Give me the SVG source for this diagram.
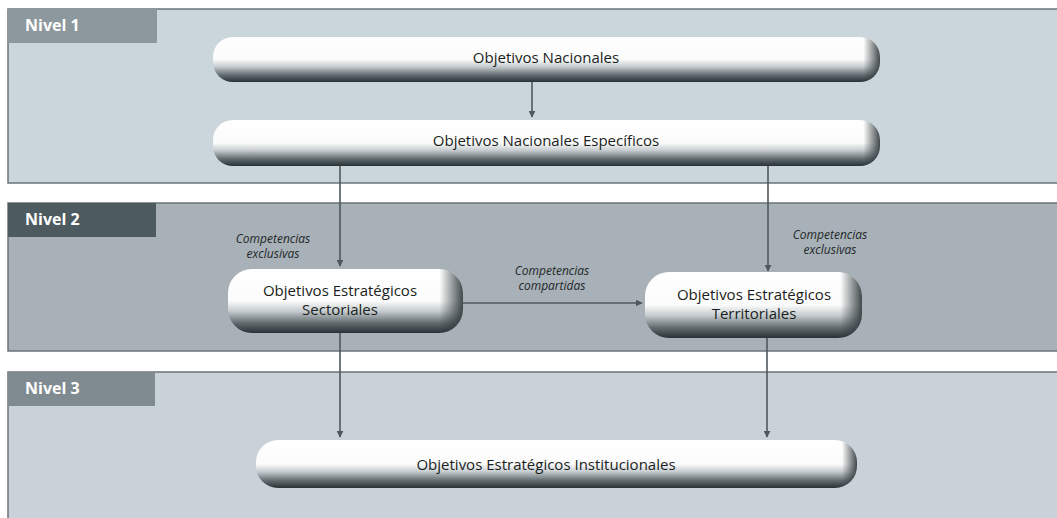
<svg xmlns="http://www.w3.org/2000/svg" width="1057" height="518" viewBox="0 0 1057 518">
<style>
.band{stroke:#6b7478;stroke-width:1.5}
.tag{font-family:"Open Sans","Liberation Sans",sans-serif;font-weight:bold;font-size:16px;fill:#ffffff}
.lbl{font-family:"Open Sans","Liberation Sans",sans-serif;font-size:15px;fill:#1a1e20;text-anchor:middle}
.it{font-family:"Open Sans","Liberation Sans",sans-serif;font-style:italic;font-size:12px;fill:#23282a;text-anchor:middle}
.conn{stroke:#4f585c;stroke-width:1.6;fill:none;marker-end:url(#ah)}
</style>
<defs>
<marker id="ah" viewBox="0 0 10 10" refX="9" refY="5" markerWidth="7" markerHeight="7" orient="auto" markerUnits="userSpaceOnUse"><path d="M0,0 L10,5 L0,10 z" fill="#4f585c"/></marker>
<linearGradient id="gv" x1="0" y1="0" x2="0" y2="1">
<stop offset="0" stop-color="#ffffff"/>
<stop offset="0.5" stop-color="#fbfbfb"/>
<stop offset="0.66" stop-color="#c5cbce"/>
<stop offset="0.84" stop-color="#646e72"/>
<stop offset="1" stop-color="#283134"/>
</linearGradient>
<linearGradient id="gh" x1="0" y1="0" x2="1" y2="0">
<stop offset="0" stop-color="#2d3639" stop-opacity="0"/>
<stop offset="0.975" stop-color="#2d3639" stop-opacity="0"/>
<stop offset="1" stop-color="#2d3639" stop-opacity="0.9"/>
</linearGradient>
<linearGradient id="ghs" x1="0" y1="0" x2="1" y2="0">
<stop offset="0" stop-color="#2d3639" stop-opacity="0"/>
<stop offset="0.9" stop-color="#2d3639" stop-opacity="0"/>
<stop offset="1" stop-color="#2d3639" stop-opacity="0.9"/>
</linearGradient>
</defs>
<rect width="1057" height="518" fill="#ffffff"/>
<g id="bands">
<rect class="band" x="8" y="9" width="1060" height="174" fill="#cbd5dc"/>
<rect x="8" y="9" width="149" height="34" fill="#8d989e"/>
<text class="tag" x="25" y="31">Nivel 1</text>
<rect class="band" x="8" y="203" width="1060" height="148" fill="#a7b1b7"/>
<rect x="8" y="203" width="148" height="34" fill="#4d5a60"/>
<text class="tag" x="25" y="225">Nivel 2</text>
<rect class="band" x="8" y="372" width="1060" height="160" fill="#c8d2d8"/>
<rect x="8" y="372" width="147" height="34" fill="#7f8b91"/>
<text class="tag" x="25" y="394">Nivel 3</text>
</g>
<g id="connectors">
<line class="conn" x1="532" y1="82" x2="532" y2="117"/>
<line class="conn" x1="340" y1="166" x2="340" y2="266"/>
<line class="conn" x1="768" y1="166" x2="768" y2="271"/>
<line class="conn" x1="462" y1="303" x2="642" y2="303"/>
<line class="conn" x1="340" y1="333" x2="340" y2="437"/>
<line class="conn" x1="767" y1="337" x2="767" y2="437"/>
<text class="it" x="273" y="243">Competencias</text>
<text class="it" x="273" y="258">exclusivas</text>
<text class="it" x="830" y="239">Competencias</text>
<text class="it" x="830" y="254">exclusivas</text>
<text class="it" x="552" y="275">Competencias</text>
<text class="it" x="552" y="290">compartidas</text>
</g>
<g id="n1">
<rect x="213" y="37" width="667" height="45" rx="20" fill="url(#gv)"/>
<rect x="213" y="37" width="667" height="45" rx="20" fill="url(#gh)"/>
<text class="lbl" x="546" y="63">Objetivos Nacionales</text>
</g>
<g id="n2">
<rect x="213" y="120" width="667" height="46" rx="20" fill="url(#gv)"/>
<rect x="213" y="120" width="667" height="46" rx="20" fill="url(#gh)"/>
<text class="lbl" x="546" y="146">Objetivos Nacionales Específicos</text>
</g>
<g id="n3">
<rect x="228" y="269" width="235" height="64" rx="24" fill="url(#gv)"/>
<rect x="228" y="269" width="235" height="64" rx="24" fill="url(#ghs)"/>
<text class="lbl" x="340" y="296">Objetivos Estratégicos</text>
<text class="lbl" x="340" y="315">Sectoriales</text>
</g>
<g id="n4">
<rect x="645" y="272" width="217" height="66" rx="24" fill="url(#gv)"/>
<rect x="645" y="272" width="217" height="66" rx="24" fill="url(#ghs)"/>
<text class="lbl" x="754" y="300">Objetivos Estratégicos</text>
<text class="lbl" x="754" y="319">Territoriales</text>
</g>
<g id="n5">
<rect x="256" y="440" width="601" height="48" rx="22" fill="url(#gv)"/>
<rect x="256" y="440" width="601" height="48" rx="22" fill="url(#gh)"/>
<text class="lbl" x="546" y="470">Objetivos Estratégicos Institucionales</text>
</g>
</svg>
